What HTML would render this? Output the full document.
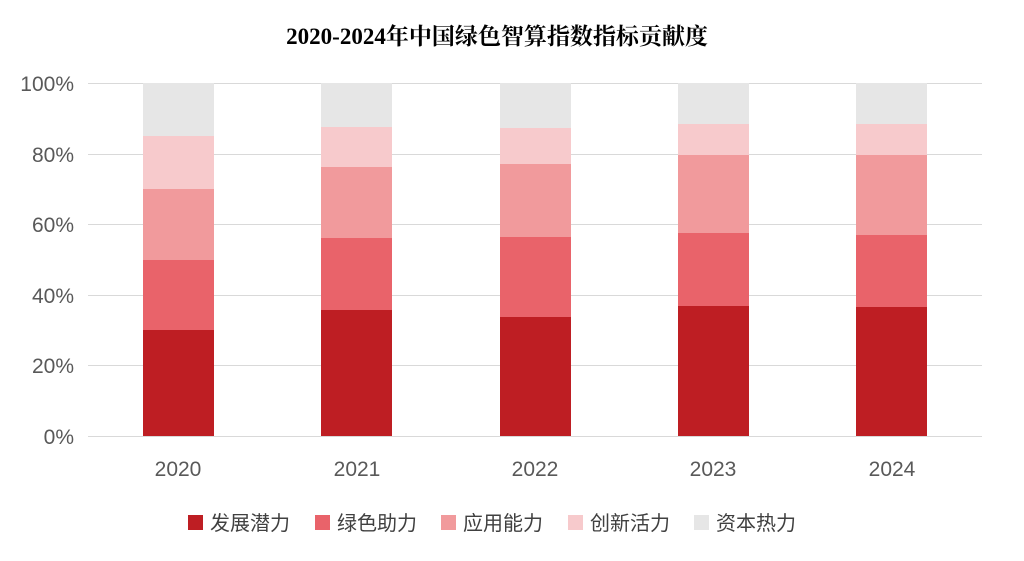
<!DOCTYPE html>
<html><head><meta charset="utf-8"><style>
body{margin:0;background:#fff;}
</style></head><body>
<svg width="1024" height="556" xmlns="http://www.w3.org/2000/svg" font-family="Liberation Sans, Noto Sans CJK SC, sans-serif">
<rect width="1024" height="556" fill="#fff"/>
<text x="497" y="44" text-anchor="middle" font-size="23" font-weight="bold" fill="#000" font-family="Liberation Serif, Noto Serif CJK SC, serif">2020-2024年中国绿色智算指数指标贡献度</text>
<g stroke="#d9d9d9" stroke-width="1">
<line x1="88" x2="982" y1="83.5" y2="83.5"/><line x1="88" x2="982" y1="154.5" y2="154.5"/>
<line x1="88" x2="982" y1="224.5" y2="224.5"/><line x1="88" x2="982" y1="295.5" y2="295.5"/>
<line x1="88" x2="982" y1="365.5" y2="365.5"/><line x1="88" x2="982" y1="436.5" y2="436.5"/>
</g>
<g font-size="21" fill="#595959" text-anchor="end">
<text x="74" y="91">100%</text><text x="74" y="162">80%</text><text x="74" y="232">60%</text>
<text x="74" y="303">40%</text><text x="74" y="373">20%</text><text x="74" y="444">0%</text>
</g>
<g>
<rect x="143" y="83" width="71" height="53" fill="#e6e6e6"/>
<rect x="143" y="136" width="71" height="53" fill="#f7cacc"/>
<rect x="143" y="189" width="71" height="71" fill="#f19a9c"/>
<rect x="143" y="260" width="71" height="70" fill="#e9636a"/>
<rect x="143" y="330" width="71" height="106" fill="#be1e23"/>
<rect x="321" y="83" width="71" height="44" fill="#e6e6e6"/>
<rect x="321" y="127" width="71" height="40" fill="#f7cacc"/>
<rect x="321" y="167" width="71" height="71" fill="#f19a9c"/>
<rect x="321" y="238" width="71" height="72" fill="#e9636a"/>
<rect x="321" y="310" width="71" height="126" fill="#be1e23"/>
<rect x="500" y="83" width="71" height="45" fill="#e6e6e6"/>
<rect x="500" y="128" width="71" height="36" fill="#f7cacc"/>
<rect x="500" y="164" width="71" height="73" fill="#f19a9c"/>
<rect x="500" y="237" width="71" height="80" fill="#e9636a"/>
<rect x="500" y="317" width="71" height="119" fill="#be1e23"/>
<rect x="678" y="83" width="71" height="41" fill="#e6e6e6"/>
<rect x="678" y="124" width="71" height="31" fill="#f7cacc"/>
<rect x="678" y="155" width="71" height="78" fill="#f19a9c"/>
<rect x="678" y="233" width="71" height="73" fill="#e9636a"/>
<rect x="678" y="306" width="71" height="130" fill="#be1e23"/>
<rect x="856" y="83" width="71" height="41" fill="#e6e6e6"/>
<rect x="856" y="124" width="71" height="31" fill="#f7cacc"/>
<rect x="856" y="155" width="71" height="80" fill="#f19a9c"/>
<rect x="856" y="235" width="71" height="72" fill="#e9636a"/>
<rect x="856" y="307" width="71" height="129" fill="#be1e23"/>
</g>
<g font-size="21" fill="#595959" text-anchor="middle">
<text x="178" y="476">2020</text><text x="357" y="476">2021</text><text x="535" y="476">2022</text>
<text x="713" y="476">2023</text><text x="892" y="476">2024</text>
</g>
<g font-size="20" fill="#404040">
<rect x="188" y="515" width="15" height="15" fill="#be1e23"/><text x="210" y="530">发展潜力</text>
<rect x="315" y="515" width="15" height="15" fill="#e9636a"/><text x="337" y="530">绿色助力</text>
<rect x="441" y="515" width="15" height="15" fill="#f19a9c"/><text x="463" y="530">应用能力</text>
<rect x="568" y="515" width="15" height="15" fill="#f7cacc"/><text x="590" y="530">创新活力</text>
<rect x="694" y="515" width="15" height="15" fill="#e6e6e6"/><text x="716" y="530">资本热力</text>
</g>
</svg>
</body></html>
